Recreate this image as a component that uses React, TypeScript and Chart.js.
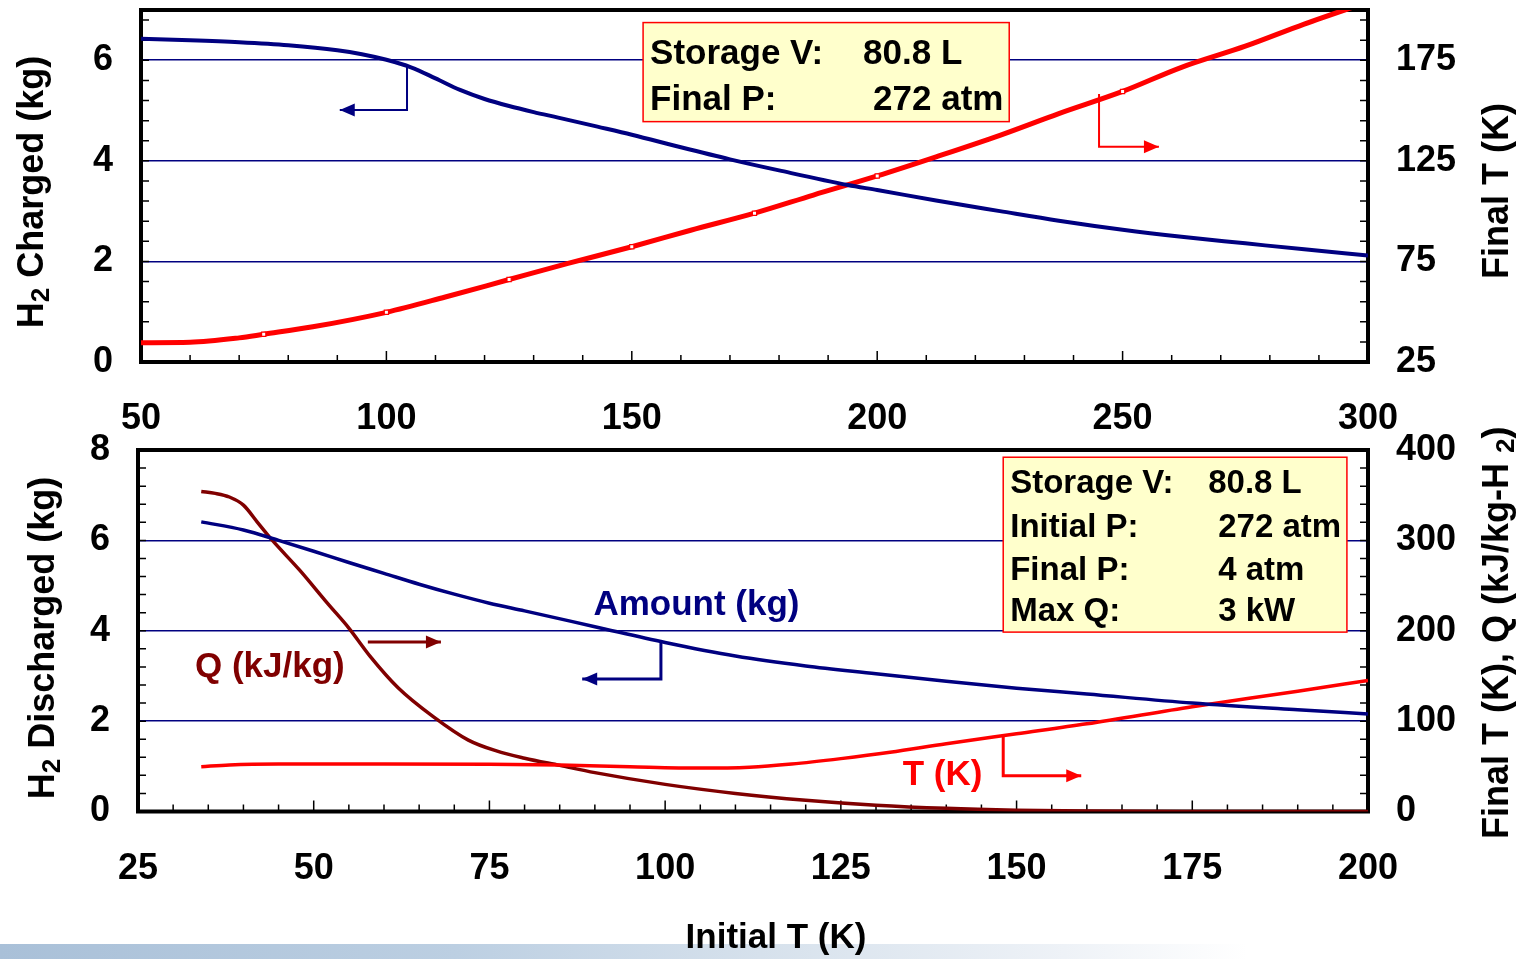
import React, { useEffect, useRef } from "react";
import { Chart, registerables } from "chart.js";

Chart.register(...registerables);

const FONT = "'Liberation Sans', Arial, Helvetica, sans-serif";
const NAVY = "#000080";
const RED = "#ff0000";
const DARKRED = "#800000";

// ---------- Top panel: H2 charged vs initial T ----------
const TOP_X_TICKS = [50, 100, 150, 200, 250, 300];
const TOP_KG_TICKS = [0, 2, 4, 6];
const TOP_T_TICKS = [25, 75, 125, 175];
const TOP_GRID_KG = [2, 4, 6];
const TOP_CHARGED_X = [50, 60, 70, 80, 90, 95, 100, 105, 110, 115, 120, 125, 130, 135, 143, 150, 160, 170, 180, 194, 200, 212, 225, 237, 250, 262, 275, 287, 300];
const TOP_CHARGED_KG = [6.43, 6.4, 6.36, 6.3, 6.2, 6.12, 6.01, 5.86, 5.64, 5.41, 5.23, 5.09, 4.97, 4.86, 4.68, 4.52, 4.27, 4.03, 3.81, 3.52, 3.42, 3.21, 3.0, 2.81, 2.63, 2.49, 2.36, 2.24, 2.12];
const TOP_FINAL_X = [50, 60, 70, 75, 85, 100, 112, 125, 137, 150, 162, 175, 187, 200, 212, 225, 237, 250, 262, 275, 287, 300];
const TOP_FINAL_T = [34.6, 34.8, 37.0, 38.8, 42.5, 49.7, 57.3, 66.0, 74.0, 82.3, 90.5, 99.0, 108.0, 117.5, 127.0, 137.7, 148.5, 159.5, 171.5, 182.0, 193.0, 204.0];
const TOP_FINAL_MARKED_X = [75, 100, 125, 150, 175, 200, 250];

// ---------- Bottom panel: H2 discharged vs initial T ----------
const BOT_X_TICKS = [25, 50, 75, 100, 125, 150, 175, 200];
const BOT_KG_TICKS = [0, 2, 4, 6, 8];
const BOT_RIGHT_TICKS = [0, 100, 200, 300, 400];
const BOT_GRID_KG = [2, 4, 6];
const BOT_AMOUNT_X = [34, 40, 45, 50, 55, 60, 65, 70, 75, 80, 90, 100, 110, 120, 130, 140, 150, 160, 175, 190, 200];
const BOT_AMOUNT_KG = [6.41, 6.23, 6.0, 5.76, 5.51, 5.27, 5.03, 4.81, 4.61, 4.44, 4.09, 3.74, 3.44, 3.22, 3.05, 2.88, 2.73, 2.6, 2.4, 2.25, 2.16];
const BOT_Q_X = [34, 36, 38, 40, 42, 44, 48, 52, 55, 58, 62, 67, 72, 76, 80, 85, 90, 100, 110, 120, 130, 140, 150, 160, 175, 200];
const BOT_Q = [354, 352, 348, 339, 320, 301, 267, 230, 203, 172, 137, 105, 79, 67, 59, 51, 43, 30, 20, 12.5, 7, 3.5, 1.5, 0.5, 0, 0];
const BOT_T_X = [34, 38, 45, 60, 75, 85, 95, 105, 112, 118, 125, 132, 140, 150, 160, 175, 190, 200];
const BOT_T = [49.5, 51.5, 52.5, 52.5, 52.3, 51.5, 49.5, 48, 49, 52.5, 58.5, 65.5, 75, 86, 97, 116, 133, 145];

type XY = [number, number];
interface BoxLine { label: string; value: string; dy: number; valueDx: number }
interface Box { x0: number; x1: number; y0: number; y1: number; size: number; labelDx: number; lines: BoxLine[] }
interface Arrow { pts: XY[]; color: string; width: number }
interface Label { text: string; x: number; y: number; color: string; size: number }
interface RichPart { t: string; size: number; dy: number }
interface Title { parts: RichPart[]; x: number; y: number; rot: number; align: "center" | "left" }
interface Deco { xMinor: number; xMajor: number; yMinor: number; boxes: Box[]; arrows: Arrow[]; labels: Label[]; titles: Title[] }

const TOP_DECO: Deco = {
  xMinor: 10,
  xMajor: 50,
  yMinor: 0.4,
  boxes: [
    {
      x0: 152.3, x1: 226.9, y0: 6.75, y1: 4.78, size: 35, labelDx: 7,
      lines: [
        { label: "Storage V:", value: "80.8 L", dy: 41, valueDx: 220 },
        { label: "Final P:", value: "272 atm", dy: 87, valueDx: 230 },
      ],
    },
  ],
  arrows: [
    { pts: [[104.2, 5.89], [104.2, 5.01], [90.5, 5.01]], color: NAVY, width: 2 },
    { pts: [[245.2, 5.33], [245.2, 4.28], [257.4, 4.28]], color: RED, width: 2 },
  ],
  labels: [],
  titles: [
    { parts: [{ t: "H", size: 36, dy: 0 }, { t: "2", size: 26, dy: 6 }, { t: " Charged (kg)", size: 36, dy: 0 }], x: 43, y: 192, rot: -Math.PI / 2, align: "center" },
    { parts: [{ t: "Final T (K)", size: 36, dy: 0 }], x: 1508, y: 191, rot: -Math.PI / 2, align: "center" },
  ],
};

const BOT_DECO: Deco = {
  xMinor: 5,
  xMajor: 25,
  yMinor: 0.4,
  boxes: [
    {
      x0: 148.1, x1: 197.0, y0: 7.84, y1: 3.97, size: 33, labelDx: 7,
      lines: [
        { label: "Storage V:", value: "80.8 L", dy: 36, valueDx: 205 },
        { label: "Initial P:", value: "272 atm", dy: 80, valueDx: 215 },
        { label: "Final P:", value: "4 atm", dy: 123, valueDx: 215 },
        { label: "Max Q:", value: "3 kW", dy: 164, valueDx: 215 },
      ],
    },
  ],
  arrows: [
    { pts: [[99.4, 3.73], [99.4, 2.93], [88.2, 2.93]], color: NAVY, width: 3 },
    { pts: [[148.1, 1.69], [148.1, 0.79], [159.2, 0.79]], color: RED, width: 3 },
    { pts: [[57.7, 3.75], [68.1, 3.75]], color: DARKRED, width: 3 },
  ],
  labels: [
    { text: "Amount (kg)", x: 89.8, y: 4.57, color: NAVY, size: 35 },
    { text: "Q (kJ/kg)", x: 33.1, y: 3.19, color: DARKRED, size: 35 },
    { text: "T (K)", x: 133.8, y: 0.79, color: RED, size: 35 },
  ],
  titles: [
    { parts: [{ t: "H", size: 36, dy: 0 }, { t: "2", size: 26, dy: 6 }, { t: " Discharged (kg)", size: 36, dy: 0 }], x: 54, y: 238, rot: -Math.PI / 2, align: "center" },
    { parts: [{ t: "Final T (K), Q (kJ/kg-H ", size: 36, dy: 0 }, { t: "2", size: 26, dy: 6 }, { t: ")", size: 36, dy: 0 }], x: 1508, y: 439, rot: -Math.PI / 2, align: "left" },
    { parts: [{ t: "Initial T (K)", size: 35, dy: 0 }], x: 776, y: 548, rot: 0, align: "center" },
  ],
};

function drawRich(ctx: CanvasRenderingContext2D, t: Title) {
  ctx.save();
  ctx.translate(t.x, t.y);
  ctx.rotate(t.rot);
  ctx.fillStyle = "#000";
  ctx.textBaseline = "alphabetic";
  ctx.textAlign = "left";
  let total = 0;
  const widths = t.parts.map((p) => {
    ctx.font = `bold ${p.size}px ${FONT}`;
    const w = ctx.measureText(p.t).width;
    total += w;
    return w;
  });
  let cur = t.align === "center" ? -total / 2 : 0;
  t.parts.forEach((p, i) => {
    ctx.font = `bold ${p.size}px ${FONT}`;
    ctx.fillText(p.t, cur, p.dy);
    cur += widths[i];
  });
  ctx.restore();
}

function decoPlugin(d: Deco) {
  return {
    id: "deco",
    beforeDatasetsDraw(chart: any) {
      const { ctx, chartArea: a, scales } = chart;
      const xs = scales.x;
      const ys = scales.y;
      ctx.save();
      ctx.strokeStyle = "#000";
      ctx.lineWidth = 1.5;
      ctx.beginPath();
      const nx = Math.round((xs.max - xs.min) / d.xMinor);
      for (let i = 1; i < nx; i++) {
        const v = xs.min + i * d.xMinor;
        const px = xs.getPixelForValue(v);
        const r = (v - xs.min) / d.xMajor;
        const major = Math.abs(r - Math.round(r)) < 1e-6;
        ctx.moveTo(px, a.bottom);
        ctx.lineTo(px, a.bottom - (major ? 11 : 7));
      }
      const ny = Math.round((ys.max - ys.min) / d.yMinor);
      for (let i = 1; i <= ny; i++) {
        const v = ys.min + i * d.yMinor;
        if (v >= ys.max - 1e-6) continue;
        const py = ys.getPixelForValue(v);
        ctx.moveTo(a.left, py);
        ctx.lineTo(a.left + 8, py);
        ctx.moveTo(a.right, py);
        ctx.lineTo(a.right - 8, py);
      }
      ctx.stroke();
      ctx.lineWidth = 4;
      ctx.strokeRect(a.left, a.top, a.right - a.left, a.bottom - a.top);
      ctx.restore();
    },
    afterDatasetsDraw(chart: any) {
      const { ctx, scales } = chart;
      const X = (v: number) => scales.x.getPixelForValue(v);
      const Y = (v: number) => scales.y.getPixelForValue(v);
      ctx.save();
      d.boxes.forEach((b) => {
        const l = X(b.x0), r = X(b.x1), t = Y(b.y0), bt = Y(b.y1);
        ctx.fillStyle = "#ffffcc";
        ctx.fillRect(l, t, r - l, bt - t);
        ctx.strokeStyle = RED;
        ctx.lineWidth = 1.5;
        ctx.strokeRect(l, t, r - l, bt - t);
        ctx.fillStyle = "#000";
        ctx.font = `bold ${b.size}px ${FONT}`;
        ctx.textBaseline = "alphabetic";
        ctx.textAlign = "left";
        b.lines.forEach((ln) => {
          ctx.fillText(ln.label, l + b.labelDx, t + ln.dy);
          ctx.fillText(ln.value, l + ln.valueDx, t + ln.dy);
        });
      });
      d.arrows.forEach((ar) => {
        const pts = ar.pts.map(([x, y]) => [X(x), Y(y)]);
        ctx.strokeStyle = ar.color;
        ctx.fillStyle = ar.color;
        ctx.lineWidth = ar.width;
        ctx.beginPath();
        pts.forEach(([x, y], i) => (i === 0 ? ctx.moveTo(x, y) : ctx.lineTo(x, y)));
        ctx.stroke();
        const [px, py] = pts[pts.length - 2];
        const [qx, qy] = pts[pts.length - 1];
        const ang = Math.atan2(qy - py, qx - px);
        const L = 15, W = 6.5;
        const c = Math.cos(ang), s = Math.sin(ang);
        ctx.beginPath();
        ctx.moveTo(qx, qy);
        ctx.lineTo(qx - L * c + W * s, qy - L * s - W * c);
        ctx.lineTo(qx - L * c - W * s, qy - L * s + W * c);
        ctx.closePath();
        ctx.fill();
      });
      d.labels.forEach((lb) => {
        ctx.fillStyle = lb.color;
        ctx.font = `bold ${lb.size}px ${FONT}`;
        ctx.textBaseline = "middle";
        ctx.textAlign = "left";
        ctx.fillText(lb.text, X(lb.x), Y(lb.y));
      });
      ctx.restore();
    },
    afterDraw(chart: any) {
      d.titles.forEach((t) => drawRich(chart.ctx, t));
    },
  };
}

const tickFont = { family: FONT, size: 36, weight: "bold" as const };

const noPad = (s: any) => {
  s.paddingTop = 0;
  s.paddingBottom = 0;
  s.paddingLeft = 0;
  s.paddingRight = 0;
};

function makeOptions(p: {
  xMin: number; xMax: number; xTicks: number[];
  yMax: number; yTicks: number[]; grid: number[];
  y2Min: number; y2Max: number; y2Ticks: number[];
  leftW: number; rightW: number; xH: number; padTop: number; xPad: number;
}) {
  return {
    responsive: false,
    animation: false,
    events: [],
    layout: { autoPadding: false, padding: { top: p.padTop, left: 0, right: 0, bottom: 0 } },
    plugins: { legend: { display: false }, tooltip: { enabled: false } },
    scales: {
      x: {
        type: "linear",
        position: "bottom",
        min: p.xMin,
        max: p.xMax,
        afterBuildTicks: (s: any) => { s.ticks = p.xTicks.map((v) => ({ value: v })); },
        afterFit: (s: any) => { s.height = p.xH; noPad(s); },
        grid: { display: false, drawTicks: false },
        border: { display: false },
        ticks: { color: "#000", font: tickFont, padding: p.xPad, maxRotation: 0, minRotation: 0, autoSkip: false },
      },
      y: {
        type: "linear",
        position: "left",
        min: 0,
        max: p.yMax,
        afterBuildTicks: (s: any) => { s.ticks = p.yTicks.map((v) => ({ value: v })); },
        afterFit: (s: any) => { s.width = p.leftW; noPad(s); },
        grid: {
          drawTicks: false,
          lineWidth: 1.6,
          color: (ctx: any) => (ctx.tick && p.grid.includes(ctx.tick.value) ? NAVY : "rgba(0,0,0,0)"),
        },
        border: { display: false },
        ticks: { color: "#000", font: tickFont, padding: 28, autoSkip: false },
      },
      y2: {
        type: "linear",
        position: "right",
        min: p.y2Min,
        max: p.y2Max,
        afterBuildTicks: (s: any) => { s.ticks = p.y2Ticks.map((v) => ({ value: v })); },
        afterFit: (s: any) => { s.width = p.rightW; noPad(s); },
        grid: { display: false, drawTicks: false },
        border: { display: false },
        ticks: { color: "#000", font: tickFont, padding: 28, autoSkip: false },
      },
    },
  };
}

const pts = (xs: number[], ys: number[]) => xs.map((x, i) => ({ x, y: ys[i] }));

export default function App() {
  const topRef = useRef<HTMLCanvasElement>(null);
  const botRef = useRef<HTMLCanvasElement>(null);

  useEffect(() => {
    const top = new Chart(topRef.current as HTMLCanvasElement, {
      type: "line",
      data: {
        datasets: [
          {
            data: pts(TOP_CHARGED_X, TOP_CHARGED_KG),
            yAxisID: "y",
            borderColor: NAVY,
            borderWidth: 4,
            pointRadius: 0,
            cubicInterpolationMode: "monotone",
          },
          {
            data: pts(TOP_FINAL_X, TOP_FINAL_T),
            yAxisID: "y2",
            borderColor: RED,
            borderWidth: 5,
            pointStyle: "rect",
            pointRadius: (c: any) => (c.raw && TOP_FINAL_MARKED_X.includes(c.raw.x) ? 3 : 0),
            pointBackgroundColor: "#ffffff",
            pointBorderColor: RED,
            pointBorderWidth: 1.2,
            cubicInterpolationMode: "monotone",
          },
        ],
      },
      options: makeOptions({
        xMin: 50, xMax: 300, xTicks: TOP_X_TICKS,
        yMax: 7, yTicks: TOP_KG_TICKS, grid: TOP_GRID_KG,
        y2Min: 25, y2Max: 200, y2Ticks: TOP_T_TICKS,
        leftW: 141, rightW: 153, xH: 78, padTop: 10, xPad: 35,
      }) as any,
      plugins: [decoPlugin(TOP_DECO)],
    });

    const bot = new Chart(botRef.current as HTMLCanvasElement, {
      type: "line",
      data: {
        datasets: [
          {
            data: pts(BOT_AMOUNT_X, BOT_AMOUNT_KG),
            yAxisID: "y",
            borderColor: NAVY,
            borderWidth: 3.5,
            pointRadius: 0,
            cubicInterpolationMode: "monotone",
          },
          {
            data: pts(BOT_T_X, BOT_T),
            yAxisID: "y2",
            borderColor: RED,
            borderWidth: 3.5,
            pointRadius: 0,
            cubicInterpolationMode: "monotone",
          },
          {
            data: pts(BOT_Q_X, BOT_Q),
            yAxisID: "y2",
            borderColor: DARKRED,
            borderWidth: 3.5,
            pointRadius: 0,
            cubicInterpolationMode: "monotone",
          },
        ],
      },
      options: makeOptions({
        xMin: 25, xMax: 200, xTicks: BOT_X_TICKS,
        yMax: 8, yTicks: BOT_KG_TICKS, grid: BOT_GRID_KG,
        y2Min: 0, y2Max: 400, y2Ticks: BOT_RIGHT_TICKS,
        leftW: 138, rightW: 153, xH: 147.5, padTop: 50, xPad: 36,
      }) as any,
      plugins: [decoPlugin(BOT_DECO)],
    });

    return () => {
      top.destroy();
      bot.destroy();
    };
  }, []);

  return (
    <div style={{ position: "absolute", left: 0, top: 0, width: 1521, height: 959, background: "#ffffff", overflow: "hidden" }}>
      <div
        style={{
          position: "absolute",
          left: 0,
          top: 944,
          width: 1521,
          height: 15,
          background: "linear-gradient(to right, #a9c0d8 0%, #bccfe2 30%, #d6e1ec 50%, #eef2f7 70%, #ffffff 82%)",
        }}
      />
      <canvas ref={topRef} width={1521} height={440} style={{ position: "absolute", left: 0, top: 0, width: 1521, height: 440 }} />
      <canvas ref={botRef} width={1521} height={559} style={{ position: "absolute", left: 0, top: 400, width: 1521, height: 559 }} />
    </div>
  );
}
